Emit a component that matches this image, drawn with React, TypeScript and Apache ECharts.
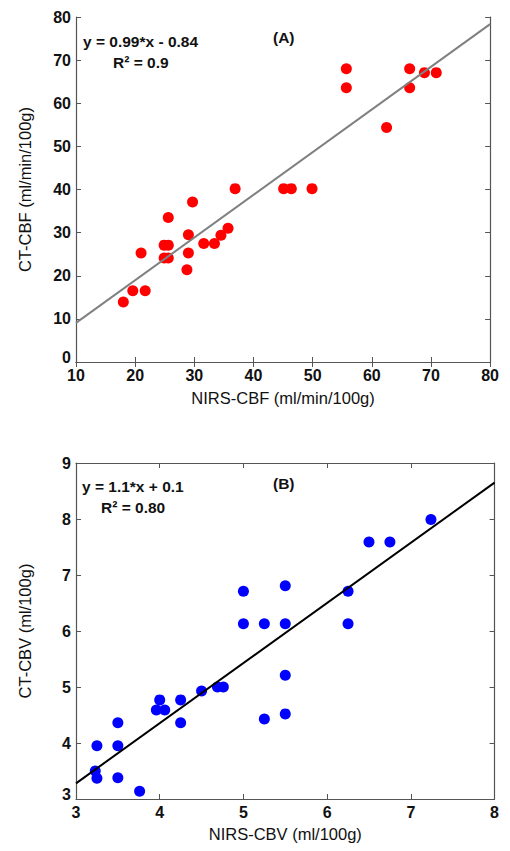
import React, { useEffect, useRef } from "react";
import * as echarts from "echarts";

const cbfNirs = [55.7, 55.7, 66.4, 66.4, 68.9, 70.9, 62.5, 36.9, 45.1, 46.4, 49.9, 29.7, 25.6, 24.9, 25.6, 24.9, 25.6, 21.0, 29.0, 29.0, 28.75, 31.6, 33.4, 34.5, 35.7, 19.6, 21.7, 18.0];
const cbfCt = [68.0, 63.6, 68.0, 63.6, 67.1, 67.1, 54.4, 40.2, 40.2, 40.2, 40.2, 37.1, 33.5, 27.1, 27.1, 24.1, 24.1, 25.3, 29.5, 25.3, 21.4, 27.5, 27.5, 29.4, 31.0, 16.5, 16.5, 13.9];
const cbfFit = [[10, 9.06], [80, 78.36]];

const cbvNirs = [7.24, 6.5, 6.75, 5.0, 5.5, 6.25, 5.0, 5.25, 5.5, 6.25, 5.5, 5.5, 5.25, 4.5, 4.69, 4.76, 4.0, 4.25, 3.96, 4.06, 4.25, 3.5, 3.25, 3.5, 3.23, 3.25, 3.5, 3.76];
const cbvCt = [7.99, 7.59, 7.59, 6.71, 6.81, 6.71, 6.13, 6.13, 6.13, 6.13, 5.21, 4.52, 4.43, 4.93, 5.0, 5.0, 4.77, 4.77, 4.59, 4.59, 4.36, 4.36, 3.95, 3.95, 3.5, 3.37, 3.38, 3.14];
const cbvFit = [[3, 3.28], [8, 8.65]];

const FONT = "Liberation Sans, Arial, sans-serif";
const AXC = "#555555";
const TICK_FS = 16;

function mainAxis(pos: string, min: number, max: number, interval: number, name: string, nameGap: number, gridIndex: number) {
  const isY = pos === "left";
  return {
    type: "value",
    gridIndex,
    position: pos,
    min,
    max,
    interval,
    name,
    nameLocation: "middle",
    nameGap,
    nameTextStyle: { fontFamily: FONT, fontSize: 16.5, color: "#111" },
    axisLine: { show: true, lineStyle: { color: AXC, width: 1.2 } },
    axisTick: { show: true, inside: true, length: 5, lineStyle: { color: AXC } },
    axisLabel: {
      fontFamily: FONT,
      fontSize: TICK_FS,
      fontWeight: "bold",
      color: "#111",
      margin: 5,
      formatter: (v: number) => (isY && v === min ? `{lo|${v}}` : `${v}`),
      rich: {
        lo: { fontFamily: FONT, fontSize: TICK_FS, fontWeight: "bold", color: "#111", padding: [0, 0, 10, 0] },
      },
    },
    splitLine: { show: false },
  };
}
function sideAxis(pos: string, min: number, max: number, interval: number, gridIndex: number) {
  return {
    type: "value",
    gridIndex,
    position: pos,
    min,
    max,
    interval,
    axisLine: { show: true, lineStyle: { color: AXC, width: 1.2 } },
    axisTick: { show: true, inside: true, length: 5, lineStyle: { color: AXC } },
    axisLabel: { show: false },
    splitLine: { show: false },
  };
}

export default function App() {
  const ref = useRef<HTMLDivElement>(null);
  useEffect(() => {
    if (!ref.current) return;
    const chart = echarts.init(ref.current, undefined, { renderer: "svg" });
    const txt = (x: number, y: number, text: string, size = 15.5) => ({
      type: "text",
      x,
      y,
      style: { text, fontFamily: FONT, fontSize: size, fontWeight: "bold", fill: "#111" },
    });
    chart.setOption({
      animation: false,
      backgroundColor: "#fff",
      grid: [
        { left: 60, top: 9, width: 432, height: 345 },
        { left: 60, top: 455, width: 432, height: 344 },
      ],
      xAxis: [
        mainAxis("bottom", 10, 80, 10, "NIRS-CBF (ml/min/100g)", 27, 0),
        sideAxis("top", 10, 80, 10, 0),
        mainAxis("bottom", 3, 8, 1, "NIRS-CBV (ml/100g)", 26, 1),
        sideAxis("top", 3, 8, 1, 1),
      ],
      yAxis: [
        mainAxis("left", 0, 80, 10, "CT-CBF (ml/min/100g)", 43, 0),
        sideAxis("right", 0, 80, 10, 0),
        mainAxis("left", 3, 9, 1, "CT-CBV (ml/100g)", 43, 1),
        sideAxis("right", 3, 9, 1, 1),
      ],
      series: [
        {
          type: "scatter",
          xAxisIndex: 0,
          yAxisIndex: 0,
          symbolSize: 11,
          itemStyle: { color: "#ff0000", opacity: 1 },
          data: cbfNirs.map((v, i) => [v, cbfCt[i]]),
          z: 3,
        },
        {
          type: "line",
          xAxisIndex: 0,
          yAxisIndex: 0,
          showSymbol: false,
          symbol: "none",
          lineStyle: { color: "#808080", width: 2 },
          data: cbfFit,
          z: 4,
        },
        {
          type: "scatter",
          xAxisIndex: 2,
          yAxisIndex: 2,
          symbolSize: 11,
          itemStyle: { color: "#0000ff", opacity: 1 },
          data: cbvNirs.map((v, i) => [v, cbvCt[i]]),
          z: 3,
        },
        {
          type: "line",
          xAxisIndex: 2,
          yAxisIndex: 2,
          showSymbol: false,
          symbol: "none",
          lineStyle: { color: "#000", width: 2 },
          data: cbvFit,
          z: 4,
        },
      ],
      graphic: [
        txt(75, 25, "y = 0.99*x - 0.84"),
        txt(105, 46, "R² = 0.9"),
        txt(265, 21, "(A)"),
        txt(74, 470, "y = 1.1*x + 0.1"),
        txt(93, 491, "R² = 0.80"),
        txt(265, 467, "(B)"),
      ],
    });
    return () => chart.dispose();
  }, []);
  return <div ref={ref} style={{ width: 494, height: 835 }} />;
}
